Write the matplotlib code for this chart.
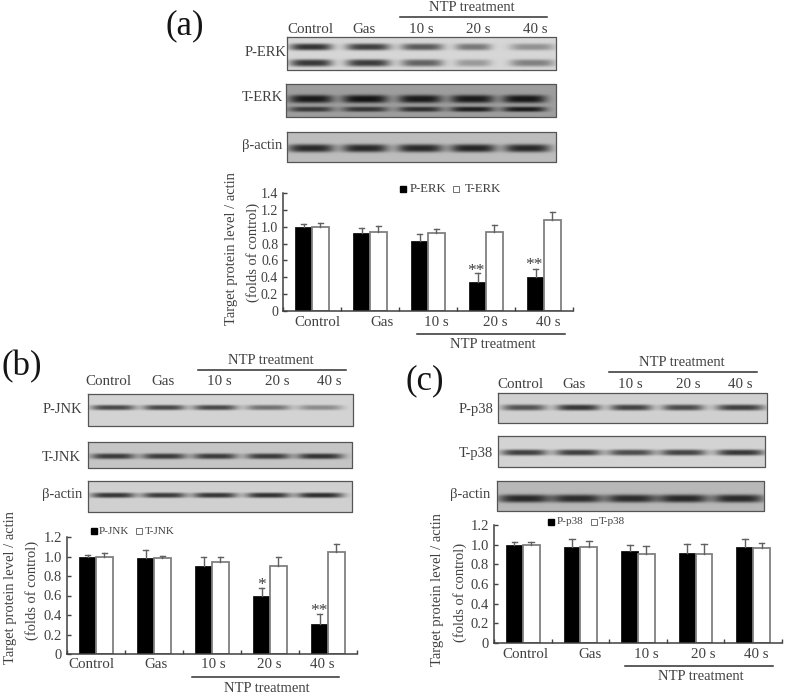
import matplotlib
matplotlib.use("Agg")
import matplotlib.pyplot as plt
import numpy as np

plt.rcParams["font.family"] = ["Liberation Serif", "DejaVu Serif"]

W, H = 787, 694
INK = "#404040"

groups = ["Control", "Gas", "10 s", "20 s", "40 s"]

# bar values and top of the error bars
erk_p = [1.00, 0.93, 0.83, 0.35, 0.40]
erk_p_top = [1.03, 0.99, 0.91, 0.45, 0.50]
erk_t = [1.00, 0.94, 0.93, 0.94, 1.08]
erk_t_top = [1.04, 1.01, 0.97, 1.02, 1.17]

jnk_p = [1.00, 0.98, 0.90, 0.60, 0.31]
jnk_p_top = [1.02, 1.07, 0.99, 0.68, 0.41]
jnk_t = [1.00, 0.98, 0.94, 0.90, 1.05]
jnk_t_top = [1.04, 1.01, 1.00, 0.99, 1.13]

p38_p = [1.00, 0.98, 0.94, 0.92, 0.98]
p38_p_top = [1.03, 1.06, 1.00, 1.01, 1.06]
p38_t = [1.00, 0.98, 0.91, 0.91, 0.97]
p38_t_top = [1.03, 1.04, 0.99, 1.01, 1.02]

# band darkness per lane
erk_p_up = [0.76, 0.70, 0.58, 0.44, 0.32]
erk_p_low = [0.74, 0.72, 0.54, 0.28, 0.40]
erk_t_up = [0.84, 0.88, 0.84, 0.84, 0.86]
erk_t_low = [0.64, 0.66, 0.70, 0.80, 0.82]
erk_actin = [0.78, 0.78, 0.78, 0.80, 0.78]
jnk_p_band = [0.66, 0.66, 0.66, 0.46, 0.34]
jnk_t_band = [0.70, 0.70, 0.70, 0.70, 0.74]
jnk_actin = [0.74, 0.72, 0.74, 0.76, 0.78]
p38_p_band = [0.60, 0.74, 0.68, 0.64, 0.70]
p38_t_band = [0.70, 0.70, 0.64, 0.68, 0.74]
p38_actin = [0.78, 0.76, 0.76, 0.78, 0.78]

fig = plt.figure(figsize=(W / 100, H / 100), dpi=100)
ov = fig.add_axes([0, 0, 1, 1], zorder=0)
ov.set_xlim(0, W)
ov.set_ylim(H, 0)
ov.axis("off")


def label(x, y, s, size=10.5, ha="center", color=INK, **kw):
    ov.text(x, y, s, fontsize=size, ha=ha, va="center", color=color, **kw)


def blot(box, grey, lanes, widths, rows):
    # rows: (band y, half thickness, darkness per lane)
    x0, x1, y0, y1 = box
    xx, yy = np.meshgrid(np.arange(x0, x1, 0.5), np.arange(y0, y1, 0.5))
    dark = np.zeros_like(xx)
    for yc, sig, levels in rows:
        for c, hw, lev in zip(lanes, widths, levels):
            dark += lev * np.exp(-(np.abs(yy - yc) / sig) ** 3) * np.exp(-(np.abs(xx - c) / hw) ** 4)
    img = grey * (1 - np.clip(dark, 0, 1))
    ov.imshow(img, extent=(x0, x1, y1, y0), cmap="gray", vmin=0, vmax=1, aspect="auto", zorder=1)
    ov.plot([x0, x1, x1, x0, x0], [y0, y0, y1, y1, y0], color="#555555", lw=0.9, zorder=2)


def chart(box, ymax, p, p_top, t, t_top, ticks, tick_size):
    left, top, right, bottom = box
    ax = fig.add_axes([left / W, 1 - bottom / H, (right - left) / W, (bottom - top) / H], zorder=2)
    ax.patch.set_alpha(0)
    xs = np.arange(5) + 0.5
    bw = 0.29
    ax.bar(xs - bw / 2, p, bw, color="black", edgecolor="black", lw=0.5)
    ax.bar(xs + bw / 2, t, bw, color="white", edgecolor="#808080", lw=1.3)
    for x, v, e in zip(xs - bw / 2, p, p_top):
        ax.plot([x, x], [v, e], color="#606060", lw=1.0)
        ax.plot([x - 0.05, x + 0.05], [e, e], color="#606060", lw=1.0)
    for x, v, e in zip(xs + bw / 2, t, t_top):
        ax.plot([x, x], [v, e], color="#606060", lw=1.0)
        ax.plot([x - 0.05, x + 0.05], [e, e], color="#606060", lw=1.0)
    ax.set_xlim(0, 5)
    ax.set_ylim(0, ymax)
    ax.set_xticks(np.arange(6))
    ax.set_xticklabels([])
    ax.set_yticks(ticks)
    ax.set_yticklabels(["0" if v == 0 else f"{v:.1f}" for v in ticks], fontsize=tick_size, color=INK)
    ax.tick_params(direction="in", length=3, width=1.0, color="#404040", pad=3.5)
    ax.spines["top"].set_visible(False)
    ax.spines["right"].set_visible(False)
    for s in ("left", "bottom"):
        ax.spines[s].set_color("#404040")
        ax.spines[s].set_linewidth(1.1)
    return ax


def header(panel, panel_xy, ntp_xy, rule, lane_x, lane_y):
    label(panel_xy[0], panel_xy[1], panel, size=25, color="#151515")
    label(ntp_xy[0], ntp_xy[1], "NTP treatment")
    ov.plot(rule[:2], [rule[2], rule[2]], color="#303030", lw=1.1)
    for x, s in zip(lane_x, groups):
        label(x, lane_y, s, size=10.8)


def footer(label_x, label_y, rule, ntp_xy):
    for x, s in zip(label_x, groups):
        label(x, label_y, s, size=10.8)
    ov.plot(rule[:2], [rule[2], rule[2]], color="#303030", lw=1.1)
    label(ntp_xy[0], ntp_xy[1], "NTP treatment")


def legend(y, sq1, tx1, s1, sq2, tx2, s2, size):
    ov.plot([sq1], [y], "s", color="black", ms=4.6, zorder=3)
    label(tx1, y, s1, size=size, ha="left")
    ov.plot([sq2], [y], "s", mfc="white", mec="#707070", mew=0.7, ms=4.6, zorder=3)
    label(tx2, y, s2, size=size, ha="left")


# (a)
header("(a)", (185, 26), (472, 7), (400, 547, 17), [310, 364, 421, 478, 535], 29)
lanes_a = [311, 368, 422, 473, 532]
blot((287, 556, 37, 70), 0.84, lanes_a, [21, 22, 21, 18, 22],
     [(46.7, 3.4, erk_p_up), (62.7, 3.6, erk_p_low)])
lanes_a2 = [311, 365, 420, 472, 524]
blot((286, 556, 84, 117), 0.62, lanes_a2, [22, 23, 22, 22, 22],
     [(98.7, 4.0, erk_t_up), (109, 2.6, erk_t_low)])
blot((287, 556, 132, 162), 0.74, [311, 365, 420, 473, 527], [23, 23, 23, 23, 23],
     [(148, 4.0, erk_actin)])
label(286, 52, "P-ERK", ha="right")
label(283, 97, "T-ERK", ha="right")
label(282, 145, "β-actin", ha="right")
ax_a = chart((283, 193, 573, 311), 1.4, erk_p, erk_p_top, erk_t, erk_t_top,
             [0, 0.2, 0.4, 0.6, 0.8, 1.0, 1.2, 1.4], 10)
footer([317, 382, 436, 495, 548], 322, (417, 565, 334), (493, 344))
legend(189, 403, 410, "P-ERK", 456, 465, "T-ERK", 9.2)
label(232, 249, "Target protein level / actin", rotation=90)
label(253, 252, "(folds of control)", rotation=90)
label(476, 271, "**", size=12.5)
label(534, 265, "**", size=12.5)

# (b)
header("(b)", (22, 367), (271, 360), (198, 346, 370), [108, 163, 219, 277, 329], 381)
lanes_b = [113, 164, 215, 268, 320]
blot((88, 353, 394, 426), 0.83, lanes_b, [22, 21, 22, 22, 22], [(407.3, 2.6, jnk_p_band)])
blot((88, 352, 442, 468), 0.77, lanes_b, [22, 22, 22, 22, 23], [(456, 2.8, jnk_t_band)])
blot((88, 352, 481, 512), 0.82, lanes_b, [22, 22, 22, 22, 23], [(495, 2.6, jnk_actin)])
label(82, 409, "P-JNK", ha="right")
label(81, 457, "T-JNK", ha="right")
label(82, 494, "β-actin", ha="right")
ax_b = chart((67, 537, 357, 654), 1.2, jnk_p, jnk_p_top, jnk_t, jnk_t_top,
             [0, 0.2, 0.4, 0.6, 0.8, 1.0, 1.2], 10.5)
footer([91, 156, 213, 269, 322], 665, (192, 339, 677), (267, 688))
legend(531, 94, 99, "P-JNK", 139, 145, "T-JNK", 8)
label(11, 588, "Target protein level / actin", rotation=90)
label(32, 590, "(folds of control)", rotation=90)
label(262, 585, "*", size=12.5)
label(319, 611, "**", size=12.5)

# (c)
header("(c)", (425, 381), (682, 362), (609, 757, 372), [520, 574, 630, 688, 740], 384)
lanes_c = [524, 578, 631, 683, 740]
blot((498, 767, 393, 423), 0.82, lanes_c, [22, 22, 21, 21, 24], [(407.3, 3.0, p38_p_band)])
blot((498, 765, 436, 467), 0.83, lanes_c, [23, 23, 23, 23, 24], [(452.3, 3.0, p38_t_band)])
blot((497, 764, 481, 511), 0.72, [524, 577, 631, 683, 738], [26, 25, 25, 25, 25],
     [(498.3, 4.0, p38_actin)])
label(493, 409, "P-p38", ha="right")
label(493, 453, "T-p38", ha="right")
label(490, 494, "β-actin", ha="right")
ax_c = chart((494, 525, 782, 643), 1.2, p38_p, p38_p_top, p38_t, p38_t_top,
             [0, 0.2, 0.4, 0.6, 0.8, 1.0, 1.2], 10.5)
footer([525, 590, 646, 703, 756], 654, (625, 773, 666), (701, 677))
legend(522, 551, 557, "P-p38", 594, 599, "T-p38", 8)
label(438, 590, "Target protein level / actin", rotation=90)
label(460, 592, "(folds of control)", rotation=90)

ov.set_xlim(0, W)
ov.set_ylim(H, 0)

fig.savefig("out.png", dpi=100)
plt.close(fig)
